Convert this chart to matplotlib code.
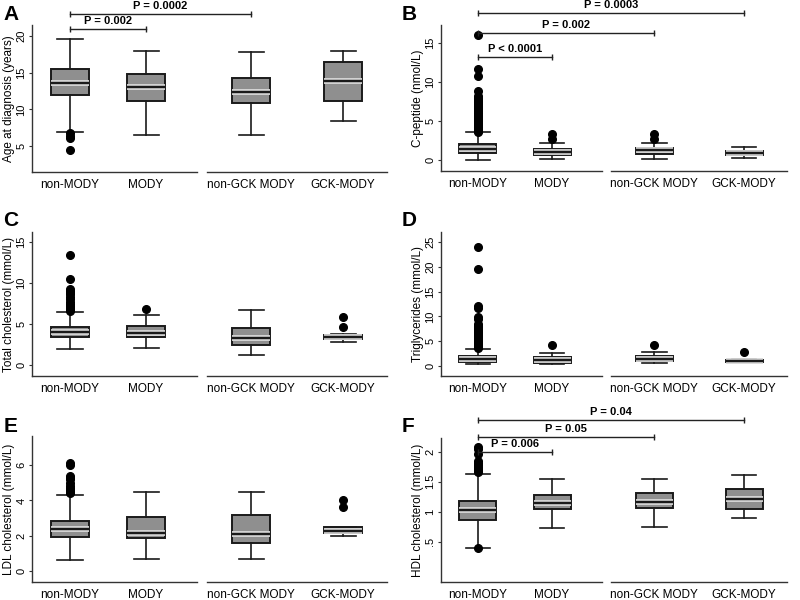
import matplotlib
matplotlib.use("Agg")
import matplotlib.pyplot as plt
import matplotlib.patheffects as pe

plt.rcParams['font.family'] = ['Liberation Sans', 'DejaVu Sans']

groups = ["non-MODY", "MODY", "non-GCK MODY", "GCK-MODY"]
positions = [1, 2, 3.38, 4.59]

# A: age at diagnosis (years)
age_low = [6.9, 6.5, 6.5, 8.4]
age_q1 = [12.0, 11.1, 10.8, 11.15]
age_med = [13.6, 13.0, 12.4, 13.9]
age_q3 = [15.5, 14.85, 14.3, 16.5]
age_high = [19.6, 17.95, 17.8, 17.95]
age_out = [[4.5, 6.1, 6.3, 6.8], [], [], []]

# B: C-peptide (nmol/L)
cpep_low = [0.0, 0.17, 0.17, 0.26]
cpep_q1 = [0.86, 0.64, 0.77, 0.6]
cpep_med = [1.4, 1.07, 1.29, 0.94]
cpep_q3 = [2.0, 1.41, 1.54, 1.2]
cpep_high = [3.56, 2.14, 2.14, 1.7]
cpep_out = [[3.6, 3.7, 3.8, 3.9, 4.0, 4.2, 4.3, 4.5, 4.6, 4.8, 5.0, 5.1, 5.3,
             5.5, 5.6, 5.8, 6.0, 6.1, 6.3, 6.5, 6.7, 6.8, 7.0, 7.2, 7.4, 7.6,
             7.8, 8.0, 8.2, 8.9, 10.8, 11.7, 16.0],
            [2.66, 3.34], [2.66, 3.34], []]

# C: total cholesterol (mmol/L)
tc_low = [1.96, 2.04, 1.22, 2.81]
tc_q1 = [3.47, 3.47, 2.45, 3.22]
tc_med = [4.08, 3.95, 3.26, 3.47]
tc_q3 = [4.69, 4.77, 4.48, 3.71]
tc_high = [6.48, 6.07, 6.73, 3.83]
tc_out = [[6.6, 6.8, 7.0, 7.2, 7.4, 7.7, 8.0, 8.3, 8.6, 8.8, 9.0, 9.2, 10.5, 13.4],
          [6.85], [], [4.69, 5.83]]

# D: triglycerides (mmol/L)
tg_low = [0.34, 0.47, 0.6, 0.74]
tg_q1 = [0.81, 0.68, 0.95, 0.81]
tg_med = [1.42, 1.15, 1.49, 0.95]
tg_q3 = [2.03, 1.82, 2.03, 1.15]
tg_high = [3.45, 2.7, 2.77, 1.42]
tg_out = [[3.6, 3.8, 4.0, 4.2, 4.4, 4.6, 4.8, 5.0, 5.3, 5.5, 5.8, 6.0, 6.3,
           6.6, 6.9, 7.2, 7.5, 7.8, 8.1, 8.4, 9.5, 9.8, 11.6, 12.2, 19.6, 24.0],
          [4.19], [4.19], [2.84]]

# E: LDL cholesterol (mmol/L)
ldl_low = [0.61, 0.66, 0.66, 2.0]
ldl_q1 = [1.93, 1.87, 1.59, 2.18]
ldl_med = [2.40, 2.18, 2.12, 2.27]
ldl_q3 = [2.84, 3.05, 3.16, 2.48]
ldl_high = [4.33, 4.49, 4.49, 2.5]
ldl_out = [[4.4, 4.5, 4.6, 4.7, 4.8, 5.0, 5.2, 5.3, 5.4, 6.0, 6.1], [], [], [3.63, 4.01]]

# F: HDL cholesterol (mmol/L)
hdl_low = [0.4, 0.73, 0.75, 0.89]
hdl_q1 = [0.87, 1.04, 1.07, 1.04]
hdl_med = [1.03, 1.14, 1.17, 1.21]
hdl_q3 = [1.18, 1.28, 1.32, 1.38]
hdl_high = [1.63, 1.54, 1.54, 1.61]
hdl_out = [[0.39, 1.66, 1.69, 1.72, 1.75, 1.78, 1.82, 1.85, 1.96, 2.05, 2.08], [], [], []]

# comparisons: (target group index, bracket y, label)
age_p = [(1, 20.9, "P = 0.002"), (2, 23.0, "P = 0.0002")]
cpep_p = [(1, 13.2, "P < 0.0001"), (2, 16.3, "P = 0.002"), (3, 18.9, "P = 0.0003")]
hdl_p = [(1, 2.0, "P = 0.006"), (2, 2.25, "P = 0.05"), (3, 2.53, "P = 0.04")]

panels = [
    ("A", "Age at diagnosis (years)", (age_low, age_q1, age_med, age_q3, age_high, age_out),
     (1.45, 21.5), [5, 10, 15, 20], None, age_p),
    ("B", "C-peptide (nmol/L)", (cpep_low, cpep_q1, cpep_med, cpep_q3, cpep_high, cpep_out),
     (-1.4, 17.3), [0, 5, 10, 15], None, cpep_p),
    ("C", "Total cholesterol (mmol/L)", (tc_low, tc_q1, tc_med, tc_q3, tc_high, tc_out),
     (-1.34, 16.2), [0, 5, 10, 15], None, []),
    ("D", "Triglycerides (mmol/L)", (tg_low, tg_q1, tg_med, tg_q3, tg_high, tg_out),
     (-2.0, 27.0), [0, 5, 10, 15, 20, 25], None, []),
    ("E", "LDL cholesterol (mmol/L)", (ldl_low, ldl_q1, ldl_med, ldl_q3, ldl_high, ldl_out),
     (-0.62, 7.64), [0, 2, 4, 6], None, []),
    ("F", "HDL cholesterol (mmol/L)", (hdl_low, hdl_q1, hdl_med, hdl_q3, hdl_high, hdl_out),
     (-0.17, 2.23), [0.5, 1, 1.5, 2], [".5", "1", "1.5", "2"], hdl_p),
]

# axes rectangles in figure fraction
rects = [
    [0.040, 0.7133, 0.444, 0.245], [0.551, 0.7150, 0.433, 0.243],
    [0.040, 0.3733, 0.444, 0.240], [0.551, 0.3733, 0.433, 0.240],
    [0.040, 0.0300, 0.444, 0.243], [0.551, 0.0300, 0.433, 0.240],
]
letter_xy = [(0.004, 0.975), (0.502, 0.975), (0.004, 0.632), (0.502, 0.632),
             (0.004, 0.290), (0.502, 0.290)]

dark = "#1a1a1a"
fig = plt.figure(figsize=(8, 6), dpi=100)

for (letter, ylab, stats, ylim, yticks, ytl, pvals), rect, lxy in zip(panels, rects, letter_xy):
    ax = fig.add_axes(rect)
    low, q1, med, q3, high, out = stats
    bstats = []
    for i in range(4):
        bstats.append(dict(whislo=low[i], q1=q1[i], med=med[i], q3=q3[i],
                           whishi=high[i], fliers=out[i]))
    ax.bxp(bstats, positions=positions, widths=0.5, patch_artist=True,
           showfliers=True,
           boxprops=dict(facecolor="#8f8f8f", edgecolor=dark, linewidth=1.4),
           medianprops=dict(color=dark, linewidth=1.6,
                            path_effects=[pe.withStroke(linewidth=4.2, foreground="#d8d8d8"),
                                          pe.Normal()]),
           whiskerprops=dict(color=dark, linewidth=1.2),
           capprops=dict(color=dark, linewidth=1.2),
           capwidths=0.33,
           flierprops=dict(marker="o", markerfacecolor="black", markeredgecolor="black",
                           markersize=5.5))
    ax.set_xlim(0.5, 5.17)
    ax.set_ylim(*ylim)
    ax.set_yticks(yticks)
    if ytl:
        ax.set_yticklabels(ytl)
    ax.set_xticks(positions)
    ax.set_xticklabels(groups, fontsize=8.5)
    ax.tick_params(axis="x", length=0, pad=5)
    ax.tick_params(axis="y", length=2.5, width=0.8, labelsize=8, pad=1.5, color="#333333")
    for lbl in ax.get_yticklabels():
        lbl.set_rotation(90)
        lbl.set_va("center")
    ax.set_ylabel(ylab, fontsize=8.5, labelpad=1)
    for s in ["top", "right", "bottom"]:
        ax.spines[s].set_visible(False)
    ax.spines["left"].set_color("#333333")
    ax.spines["left"].set_linewidth(1.0)
    # broken x axis: one segment for each pair of groups
    xt = ax.get_xaxis_transform()
    ax.plot([0.5, 2.67], [0, 0], color="#333333", lw=1.0, transform=xt, clip_on=False)
    ax.plot([2.80, 5.17], [0, 0], color="#333333", lw=1.0, transform=xt, clip_on=False)

    span = ylim[1] - ylim[0]
    for tgt, yb, txt in pvals:
        x1, x2 = positions[0], positions[tgt]
        ax.plot([x1, x2], [yb, yb], color="#222222", lw=1.0, marker="|",
                markersize=5, markeredgewidth=1.0, clip_on=False)
        ax.text((x1 + x2) / 2, yb + span * 0.02, txt, ha="center", va="bottom",
                fontsize=8, fontweight="bold", clip_on=False)

    fig.text(lxy[0], lxy[1], letter, fontsize=15, fontweight="bold", ha="left", va="center")

fig.savefig("out.png", dpi=100)
